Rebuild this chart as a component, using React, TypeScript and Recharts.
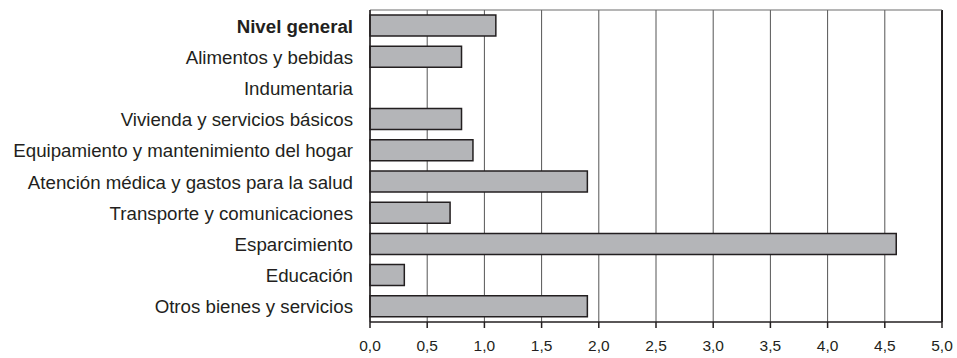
import { Bar, BarChart, CartesianGrid, ReferenceLine, XAxis, YAxis } from "recharts";

const categories = [
  "Nivel general",
  "Alimentos y bebidas",
  "Indumentaria",
  "Vivienda y servicios básicos",
  "Equipamiento y mantenimiento del hogar",
  "Atención médica y gastos para la salud",
  "Transporte y comunicaciones",
  "Esparcimiento",
  "Educación",
  "Otros bienes y servicios",
];
const values = [1.1, 0.8, 0, 0.8, 0.9, 1.9, 0.7, 4.6, 0.3, 1.9];
const xTicks = [0, 0.5, 1, 1.5, 2, 2.5, 3, 3.5, 4, 4.5, 5];

const data = categories.map((name, i) => ({ name, value: values[i] }));

const FONT = "'Liberation Sans', Arial, Helvetica, sans-serif";
const INK = "#231f20";

function CategoryTick(props: any) {
  const { x, y, payload } = props;
  const bold = payload.value === "Nivel general";
  return (
    <text
      x={x}
      y={y}
      dy={7}
      textAnchor="end"
      fill={INK}
      fontSize={18.7}
      fontFamily={FONT}
      fontWeight={bold ? 700 : 400}
    >
      {payload.value}
    </text>
  );
}

export default function App() {
  return (
    <div style={{ width: 957, height: 358, background: "#fff" }}>
      <style>{`body{margin:0}`}</style>
      <BarChart
        width={957}
        height={358}
        data={data}
        layout="vertical"
        margin={{ top: 9, right: 15, bottom: 6, left: 0 }}
      >
        <CartesianGrid horizontal={false} stroke="#555" strokeWidth={1} />
        <XAxis
          type="number"
          domain={[0, 5]}
          ticks={xTicks}
          interval={0}
          height={30}
          tickFormatter={(v: number) => v.toFixed(1).replace(".", ",")}
          tick={{ fontSize: 15.5, fill: INK, fontFamily: FONT }}
          tickLine={{ stroke: INK, strokeWidth: 1.5 }}
          tickSize={6}
          tickMargin={12}
          axisLine={{ stroke: INK, strokeWidth: 1.5 }}
        />
        {/* thin top frame line (an axis of height 0 is not drawn) */}
        <XAxis
          xAxisId="top"
          orientation="top"
          type="number"
          domain={[0, 5]}
          height={1}
          tick={false}
          tickLine={false}
          axisLine={{ stroke: "#6d6d6d", strokeWidth: 1.2 }}
        />
        <YAxis
          type="category"
          dataKey="name"
          width={370}
          tickLine={false}
          tickMargin={11}
          tick={<CategoryTick />}
          axisLine={{ stroke: INK, strokeWidth: 1.5 }}
          interval={0}
        />
        <ReferenceLine x={5} stroke={INK} strokeWidth={2} />
        <Bar
          dataKey="value"
          fill="#b4b5b8"
          stroke={INK}
          strokeWidth={1.5}
          barSize={21}
          isAnimationActive={false}
        />
      </BarChart>
    </div>
  );
}
